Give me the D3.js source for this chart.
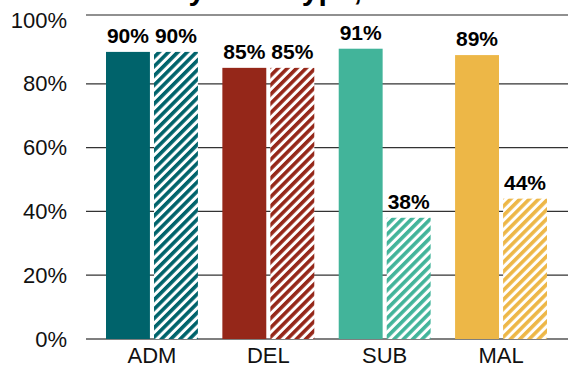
<!DOCTYPE html>
<html>
<head>
<meta charset="utf-8">
<script src="https://cdn.jsdelivr.net/npm/d3@7"></script>
<style>
  html, body { margin: 0; padding: 0; background: #fff; }
  svg { display: block; font-family: "Liberation Sans", Arial, Helvetica, sans-serif; }
</style>
</head>
<body>
<svg id="chart" width="568" height="369"></svg>
<script>
// Categories and the two series per category (solid = first measure, hatched = second)
const categories = ["ADM", "DEL", "SUB", "MAL"];
const solidValues = [90, 85, 91, 89];
const hatchedValues = [90, 85, 38, 44];
const barColors = ["#00636B", "#952719", "#42B49A", "#EDB747"];
const yTicks = [0, 20, 40, 60, 80, 100];
const titleText = "Accuracy of all type, %";

const width = 568, height = 369;
const svg = d3.select("#chart");

const y = d3.scaleLinear().domain([0, 100]).range([339, 20]);
const x = d3.scaleBand().domain(categories).range([106, 547]).paddingInner(0.21).paddingOuter(0);
const inner = d3.scaleBand().domain(["solid", "hatched"]).range([0, x.bandwidth()]).paddingInner(0.085);

// Diagonal hatch patterns, one per colour
const hatchSize = 6.6, stripe = 3.6;
const defs = svg.append("defs");
barColors.forEach((c, i) => {
  const p = defs.append("pattern")
    .attr("id", "hatch-" + i)
    .attr("patternUnits", "userSpaceOnUse")
    .attr("width", hatchSize).attr("height", hatchSize)
    .attr("patternTransform", "rotate(45)");
  p.append("rect").attr("width", hatchSize).attr("height", hatchSize).attr("fill", "#fff");
  p.append("rect").attr("width", stripe).attr("height", hatchSize).attr("fill", c);
});

// Title (sits above the plot area, partly clipped by the top edge)
svg.append("text")
  .attr("x", 70).attr("y", 0)
  .attr("font-size", 30).attr("font-weight", "bold")
  .attr("fill", "#000")
  .text(titleText);

// Top rule
svg.append("line")
  .attr("x1", 86).attr("x2", width)
  .attr("y1", y(100) - 5).attr("y2", y(100) - 5)
  .attr("stroke", "#222").attr("stroke-width", 1.2);

// Gridlines
svg.append("g").selectAll("line")
  .data(yTicks.filter(t => t < 100))
  .join("line")
  .attr("x1", 86).attr("x2", width)
  .attr("y1", d => y(d)).attr("y2", d => y(d))
  .attr("stroke", d => d === 0 ? "#000" : "#333")
  .attr("stroke-width", 1.2);

// Y axis labels
const yAxis = d3.axisLeft(y).tickValues(yTicks).tickSize(0).tickPadding(0).tickFormat(d => d + "%");
const gy = svg.append("g").attr("transform", "translate(67,0)").call(yAxis);
gy.select(".domain").remove();
gy.selectAll("text").attr("font-size", 22).attr("fill", "#111")
  .attr("font-family", "'Liberation Sans', Arial, Helvetica, sans-serif");

// X axis labels
const xAxis = d3.axisBottom(x).tickSize(0).tickPadding(0);
const gx = svg.append("g").attr("transform", "translate(0,346)").call(xAxis);
gx.select(".domain").remove();
gx.selectAll("text").attr("font-size", 22).attr("fill", "#111").attr("dy", "0.75em")
  .attr("font-family", "'Liberation Sans', Arial, Helvetica, sans-serif");

// Bars
const rows = categories.map((c, i) => ({ cat: c, i, solid: solidValues[i], hatched: hatchedValues[i] }));
const groups = svg.append("g").selectAll("g")
  .data(rows).join("g")
  .attr("transform", d => `translate(${x(d.cat)},0)`);

groups.append("rect")
  .attr("x", inner("solid")).attr("width", inner.bandwidth())
  .attr("y", d => y(d.solid)).attr("height", d => y(0) - y(d.solid))
  .attr("fill", d => barColors[d.i]);

groups.append("rect")
  .attr("x", inner("hatched")).attr("width", inner.bandwidth())
  .attr("y", d => y(d.hatched)).attr("height", d => y(0) - y(d.hatched))
  .attr("fill", d => `url(#hatch-${d.i})`);

// Value labels
groups.append("text")
  .attr("x", inner("solid") + inner.bandwidth() / 2)
  .attr("y", d => y(d.solid) - 9)
  .attr("text-anchor", "middle").attr("font-size", 21).attr("font-weight", "bold")
  .text(d => d.solid + "%");

groups.append("text")
  .attr("x", inner("hatched") + inner.bandwidth() / 2)
  .attr("y", d => y(d.hatched) - 9)
  .attr("text-anchor", "middle").attr("font-size", 21).attr("font-weight", "bold")
  .text(d => d.hatched + "%");
</script>
</body>
</html>
